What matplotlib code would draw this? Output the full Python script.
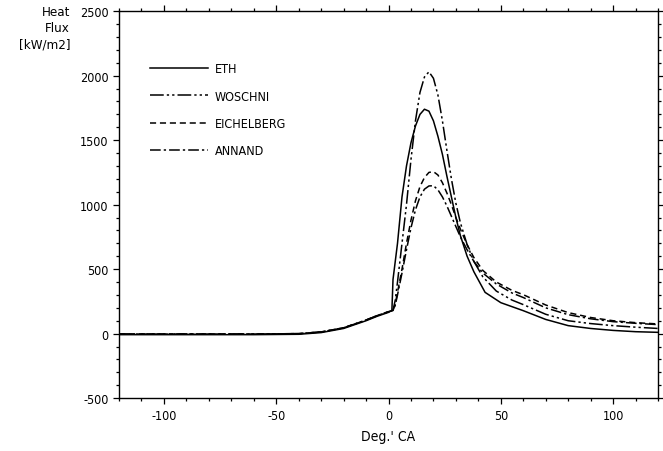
import matplotlib
matplotlib.use("Agg")
import matplotlib.pyplot as plt
from matplotlib.ticker import MultipleLocator, FuncFormatter

plt.rcParams['font.family'] = ['DejaVu Sans']
plt.rcParams['font.stretch'] = 'condensed'

# crank angle points (deg CA)
pre_x = [-120, -80, -60, -40, -30, -20, -10, -5, 0]
pre_y = [-8, -8, -8, -5, 8, 40, 100, 135, 165]

eth_x = pre_x + [1.5, 2.0, 3, 4, 6, 8, 10, 12, 14, 16, 18, 20, 22, 24, 26, 28, 30,
                 32, 35, 38, 43, 50, 60, 70, 80, 90, 100, 110, 120]
eth_y = pre_y + [180, 420, 560, 700, 1060, 1300, 1480, 1610, 1700, 1740, 1725, 1650,
                 1530, 1390, 1220, 1060, 900, 760, 600, 480, 320, 240, 178, 110, 62,
                 40, 25, 15, 10]

post_x = [2, 3, 4, 6, 8, 10, 12, 14, 16, 18, 20, 22, 24, 26, 28, 30, 32, 35, 38, 42,
          48, 55, 60, 70, 80, 90, 100, 110, 120]
woschni_y = [180, 260, 400, 700, 1000, 1350, 1650, 1870, 1990, 2030, 1980, 1850, 1650,
             1420, 1200, 1010, 860, 690, 560, 440, 330, 260, 225, 150, 100, 78, 62, 50, 40]
eichelberg_y = [180, 230, 320, 500, 700, 880, 1030, 1140, 1210, 1250, 1256, 1230, 1170,
                1090, 1000, 900, 810, 690, 590, 490, 400, 335, 302, 222, 163, 125, 100, 85, 75]
annand_y = [180, 220, 300, 470, 650, 820, 960, 1060, 1120, 1145, 1147, 1115, 1060,
            990, 910, 830, 750, 650, 560, 470, 385, 315, 280, 200, 147, 115, 93, 80, 70]

pre2_y = [v + 5 for v in pre_y]

fig = plt.figure(figsize=(6.63, 4.52), dpi=100)
ax = fig.add_axes([0.1795, 0.117, 0.813, 0.856])

lw = 1.1
ax.plot(eth_x, eth_y, color='black', lw=lw, ls='-', label='ETH')
ax.plot(pre_x + post_x, pre2_y + woschni_y, color='black', lw=lw,
        ls=(0, (9, 2, 1.5, 2, 1.5, 2)), label='WOSCHNI')
ax.plot(pre_x + post_x, pre2_y + eichelberg_y, color='black', lw=lw,
        ls=(0, (4, 2.5)), label='EICHELBERG')
ax.plot(pre_x + post_x, pre2_y + annand_y, color='black', lw=lw,
        ls=(0, (7, 2, 1.5, 2)), label='ANNAND')

ax.set_xlim(-120, 120)
ax.set_ylim(-500, 2500)
ax.xaxis.set_major_locator(MultipleLocator(50))
ax.xaxis.set_minor_locator(MultipleLocator(10))
ax.yaxis.set_major_locator(MultipleLocator(500))
ax.yaxis.set_minor_locator(MultipleLocator(100))
fmt = FuncFormatter(lambda v, p: ('-' if v < 0 else '') + '%d' % abs(v))
ax.xaxis.set_major_formatter(fmt)
ax.yaxis.set_major_formatter(fmt)
ax.tick_params(which='both', direction='out', top=True, right=True,
               labelsize=9, width=0.9)
ax.tick_params(which='major', length=4)
ax.tick_params(which='minor', length=2)
for s in ax.spines.values():
    s.set_linewidth(1.0)

ax.legend(loc='upper left', bbox_to_anchor=(0.0575, 0.868), frameon=False,
          fontsize=9, handlelength=4.6, handletextpad=0.6, labelspacing=1.15,
          borderpad=0, borderaxespad=0)

fig.text(70 / 663, 1 - 6 / 452, 'Heat\nFlux\n[kW/m2]', ha='right', va='top',
         multialignment='right', fontsize=9.5, linespacing=1.3)
fig.text(388 / 663, 1 - 437 / 452, "Deg.' CA", ha='center', va='center', fontsize=10)

fig.savefig('out.png', dpi=100)
